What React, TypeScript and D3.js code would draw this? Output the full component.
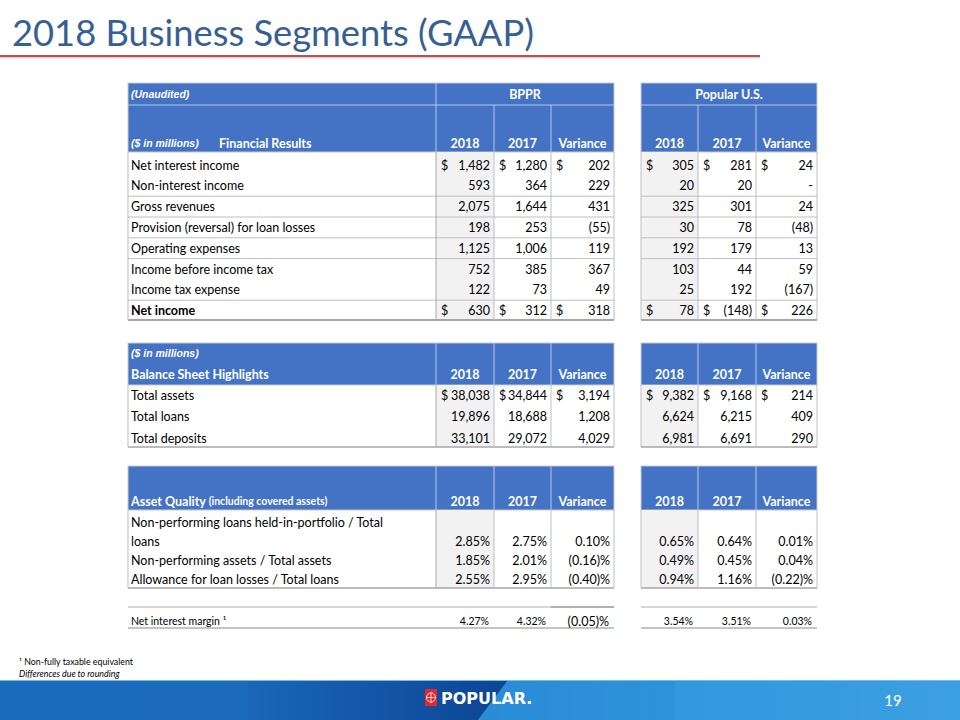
import React from "react";
import * as d3 from "d3";

// ---------- DATA ----------
const finLabels = [
  "Net interest income",
  "Non-interest income",
  "Gross revenues",
  "Provision (reversal) for loan losses",
  "Operating expenses",
  "Income before income tax",
  "Income tax expense",
  "Net income",
];
const finBppr2018 = [1482, 593, 2075, 198, 1125, 752, 122, 630];
const finBppr2017 = [1280, 364, 1644, 253, 1006, 385, 73, 312];
const finBpprVar = [202, 229, 431, -55, 119, 367, 49, 318];
const finUs2018 = [305, 20, 325, 30, 192, 103, 25, 78];
const finUs2017 = [281, 20, 301, 78, 179, 44, 192, -148];
const finUsVar = [24, 0, 24, -48, 13, 59, -167, 226];
const finDollarRows = [0, 7];
const finLinesAfter = [1, 2, 3, 4, 6];

const bsLabels = ["Total assets", "Total loans", "Total deposits"];
const bsBppr2018 = [38038, 19896, 33101];
const bsBppr2017 = [34844, 18688, 29072];
const bsBpprVar = [3194, 1208, 4029];
const bsUs2018 = [9382, 6624, 6981];
const bsUs2017 = [9168, 6215, 6691];
const bsUsVar = [214, 409, 290];
const bsDollarRows = [0];

const aqLabels = [
  ["Non-performing loans held-in-portfolio / Total", "loans"],
  ["Non-performing assets / Total assets"],
  ["Allowance for loan losses / Total loans"],
];
const aqBppr2018 = [2.85, 1.85, 2.55];
const aqBppr2017 = [2.75, 2.01, 2.95];
const aqBpprVar = [0.1, -0.16, -0.4];
const aqUs2018 = [0.65, 0.49, 0.94];
const aqUs2017 = [0.64, 0.45, 1.16];
const aqUsVar = [0.01, 0.04, -0.22];

const nimLabel = "Net interest margin ¹";
const nimBppr = [4.27, 4.32, -0.05];
const nimUs = [3.54, 3.51, 0.03];

const yearHeaders = ["2018", "2017", "Variance"];
const segmentNames = ["BPPR", "Popular U.S."];

// ---------- LAYOUT ----------
const BLUE = "#4472c4";
const GRID = "#bfbfbf";
const FONT = "Lato, 'Open Sans', sans-serif";
const ARIAL = "'Liberation Sans', Arial, sans-serif";
const LEFT = 128;
// column edges: [left,right] for 6 value columns
const colEdges: [number, number][] = [
  [436, 494],
  [494, 551],
  [551, 614],
  [641, 698],
  [698, 756],
  [756, 817],
];

const fmtInt = d3.format(",");
const fmtNum = (v: number) => (v === 0 ? "-" : v < 0 ? `(${fmtInt(-v)})` : fmtInt(v));
const fmtPct2 = d3.format(".2f");
const fmtPct = (v: number) => (v < 0 ? `(${fmtPct2(-v)})%` : `${fmtPct2(v)}%`);

function VLines({ y0, y1, color = GRID }: { y0: number; y1: number; color?: string }) {
  const xs = [LEFT, 436, 494, 551, 614, 641, 698, 756, 817];
  return (
    <g>
      {xs.map((x, i) => (
        <line key={i} x1={x} x2={x} y1={y0} y2={y1} stroke={x === 436 ? "#a6a6a6" : color} strokeWidth={1} />
      ))}
    </g>
  );
}

function GrayCols({ y0, y1 }: { y0: number; y1: number }) {
  return (
    <g>
      {[colEdges[0], colEdges[3]].map((c, i) => (
        <rect key={i} x={c[0]} y={y0} width={c[1] - c[0]} height={y1 - y0} fill="#f2f2f2" />
      ))}
    </g>
  );
}

function HLine({ y, color = GRID, w = 1 }: { y: number; color?: string; w?: number }) {
  return (
    <g>
      <line x1={LEFT} x2={614} y1={y} y2={y} stroke={color} strokeWidth={w} />
      <line x1={641} x2={817} y1={y} y2={y} stroke={color} strokeWidth={w} />
    </g>
  );
}

function BlueHeader({ y0, y1 }: { y0: number; y1: number }) {
  return (
    <g>
      <rect x={LEFT} y={y0} width={614 - LEFT} height={y1 - y0} fill={BLUE} />
      <rect x={641} y={y0} width={817 - 641} height={y1 - y0} fill={BLUE} />
      <rect x={LEFT} y={y0} width={614 - LEFT} height={y1 - y0} fill="none" stroke="#c9c9c9" strokeWidth={1} />
      <rect x={641} y={y0} width={817 - 641} height={y1 - y0} fill="none" stroke="#c9c9c9" strokeWidth={1} />
    </g>
  );
}

function YearLabels({ y }: { y: number }) {
  return (
    <g>
      {colEdges.map((c, i) => (
        <text key={i} x={(c[0] + c[1]) / 2} y={y} textAnchor="middle" dominantBaseline="central"
          fill="#fff" fontFamily={FONT} fontWeight={700} fontSize={12.5}>
          {yearHeaders[i % 3]}
        </text>
      ))}
    </g>
  );
}

function HeaderSeparators({ y0, y1, full }: { y0: number; y1: number; full: boolean }) {
  const xs = full ? [436, 494, 551, 698, 756] : [494, 551, 698, 756];
  return (
    <g>
      {xs.map((x, i) => (
        <line key={i} x1={x} x2={x} y1={y0} y2={y1} stroke="#b4c6e7" strokeWidth={1} />
      ))}
    </g>
  );
}

function ValueRow({ cy, values, dollar, fmt, size = 12.5 }: {
  cy: number; values: number[]; dollar: boolean; fmt: (v: number) => string; size?: number;
}) {
  return (
    <g>
      {values.map((v, i) => {
        const c = colEdges[i];
        return (
          <g key={i}>
            {dollar && (
              <text x={c[0] + 5} y={cy} dominantBaseline="central" fontFamily={FONT} fontSize={size} fill="#000">$</text>
            )}
            <text x={c[1] - 4} y={cy} textAnchor="end" dominantBaseline="central" fontFamily={FONT}
              fontSize={size} fill="#000">
              {fmt(v)}
            </text>
          </g>
        );
      })}
    </g>
  );
}

export default function App() {
  React.useEffect(() => {
    document.body.style.margin = "0";
  }, []);

  // Table 1 row positions
  const finY = d3.scaleLinear().domain([0, 1]).range([165, 185.8]);
  const finTop = 152;
  const finBottom = 320;
  // Table 2
  const bsY = d3.scaleLinear().domain([0, 1]).range([395, 416.5]);
  const bsTop = 385;
  const bsBottom = 447;
  // Table 3
  const aqY = d3.scaleLinear().domain([0, 1]).range([541, 560]);
  const aqTop = 510;
  const aqBottom = 588;

  const finCols = [finBppr2018, finBppr2017, finBpprVar, finUs2018, finUs2017, finUsVar];
  const bsCols = [bsBppr2018, bsBppr2017, bsBpprVar, bsUs2018, bsUs2017, bsUsVar];
  const aqCols = [aqBppr2018, aqBppr2017, aqBpprVar, aqUs2018, aqUs2017, aqUsVar];
  const nimVals = [...nimBppr, ...nimUs];

  return (
    <svg width={960} height={720} style={{ position: "absolute", left: 0, top: 0 }} viewBox="0 0 960 720">
      <defs>
        <linearGradient id="bandL" x1="0" x2="1" y1="0" y2="0">
          <stop offset="0" stopColor="#1c6cbd" />
          <stop offset="1" stopColor="#1a67b8" />
        </linearGradient>
        <linearGradient id="bandC" x1="0" x2="1" y1="0" y2="0">
          <stop offset="0" stopColor="#1a66b8" />
          <stop offset="1" stopColor="#0c4594" />
        </linearGradient>
        <linearGradient id="bandR" x1="0" x2="1" y1="0" y2="0">
          <stop offset="0" stopColor="#2a8bd6" />
          <stop offset="0.5" stopColor="#2f94dc" />
          <stop offset="1" stopColor="#3a9ee0" />
        </linearGradient>
        <linearGradient id="shadow" x1="0" x2="0" y1="0" y2="1">
          <stop offset="0" stopColor="#b0b0b0" stopOpacity={0.8} />
          <stop offset="1" stopColor="#ffffff" stopOpacity={0} />
        </linearGradient>
      </defs>
      <rect x={0} y={0} width={960} height={720} fill="#fff" />

      {/* Title */}
      <text x={12} y={46} fontFamily={FONT} fontSize={36.3} fill="#376092">2018 Business Segments (GAAP)</text>
      <rect x={0} y={57} width={760} height={3} fill="url(#shadow)" />
      <line x1={0} x2={760} y1={56} y2={56} stroke="#c0504d" strokeWidth={2} />

      {/* ---------- Table 1 ---------- */}
      <BlueHeader y0={83} y1={152} />
      <line x1={LEFT} x2={614} y1={105} y2={105} stroke="#b4c6e7" />
      <line x1={641} x2={817} y1={105} y2={105} stroke="#b4c6e7" />
      <HeaderSeparators y0={105} y1={152} full={false} />
      <line x1={436} x2={436} y1={83} y2={152} stroke="#b4c6e7" />
      <text x={131} y={94} dominantBaseline="central" fill="#fff" fontFamily={ARIAL} fontStyle="italic" fontWeight={700} fontSize={10.5}>(Unaudited)</text>
      <text x={525} y={94} textAnchor="middle" dominantBaseline="central" fill="#fff" fontFamily={FONT} fontWeight={700} fontSize={12.5}>{segmentNames[0]}</text>
      <text x={729} y={94} textAnchor="middle" dominantBaseline="central" fill="#fff" fontFamily={FONT} fontWeight={700} fontSize={12.5}>{segmentNames[1]}</text>
      <text x={131} y={143} dominantBaseline="central" fill="#fff" fontFamily={ARIAL} fontStyle="italic" fontWeight={700} fontSize={10.5}>($ in millions)</text>
      <text x={219} y={143} dominantBaseline="central" fill="#fff" fontFamily={FONT} fontWeight={700} fontSize={12.5}>Financial Results</text>
      <YearLabels y={143} />

      <GrayCols y0={finTop} y1={finBottom} />
      {finLinesAfter.map((i) => (
        <HLine key={i} y={(finY(i) + finY(i + 1)) / 2} />
      ))}
      <HLine y={finBottom} color="#a6a6a6" w={2} />
      <VLines y0={finTop} y1={finBottom} />
      {finLabels.map((l, i) => (
        <text key={l} x={131} y={finY(i)} dominantBaseline="central" fontFamily={FONT} fontSize={12.5}
          fontWeight={i === 7 ? 700 : 400} fill="#000">{l}</text>
      ))}
      {finLabels.map((l, i) => (
        <ValueRow key={l} cy={finY(i)} values={finCols.map((c) => c[i])} dollar={finDollarRows.includes(i)} fmt={fmtNum} />
      ))}

      {/* ---------- Table 2 ---------- */}
      <BlueHeader y0={343} y1={385} />
      <HeaderSeparators y0={343} y1={385} full={true} />
      <text x={131} y={353} dominantBaseline="central" fill="#fff" fontFamily={ARIAL} fontStyle="italic" fontWeight={700} fontSize={10.5}>($ in millions)</text>
      <text x={131} y={374} dominantBaseline="central" fill="#fff" fontFamily={FONT} fontWeight={700} fontSize={12.5}>Balance Sheet Highlights</text>
      <YearLabels y={374} />
      <GrayCols y0={bsTop} y1={bsBottom} />
      <HLine y={bsBottom} color="#a6a6a6" w={1.5} />
      <VLines y0={bsTop} y1={bsBottom} />
      {bsLabels.map((l, i) => (
        <text key={l} x={131} y={bsY(i)} dominantBaseline="central" fontFamily={FONT} fontSize={12.5} fill="#000">{l}</text>
      ))}
      {bsLabels.map((l, i) => (
        <ValueRow key={l} cy={bsY(i)} values={bsCols.map((c) => c[i])} dollar={bsDollarRows.includes(i)} fmt={fmtNum} />
      ))}

      {/* ---------- Table 3 ---------- */}
      <BlueHeader y0={466} y1={510} />
      <HeaderSeparators y0={466} y1={510} full={true} />
      <text x={131} y={501} dominantBaseline="central" fill="#fff" fontFamily={FONT} fontWeight={700} fontSize={12.5}>
        Asset Quality <tspan fontSize={10.5}>(including covered assets)</tspan>
      </text>
      <YearLabels y={501} />
      <GrayCols y0={aqTop} y1={aqBottom} />
      <HLine y={aqBottom} color="#a6a6a6" w={1.5} />
      <VLines y0={aqTop} y1={aqBottom} />
      {aqLabels.map((lines, i) =>
        lines.map((t, j) => (
          <text key={`${i}-${j}`} x={131} y={aqY(i) - (lines.length - 1 - j) * 19} dominantBaseline="central"
            fontFamily={FONT} fontSize={12.5} fill="#000">{t}</text>
        ))
      )}
      {aqLabels.map((l, i) => (
        <ValueRow key={i} cy={aqY(i)} values={aqCols.map((c) => c[i])} dollar={false} fmt={fmtPct} />
      ))}

      {/* ---------- Net interest margin ---------- */}
      <HLine y={607} color="#c8c8c8" w={1.5} />
      <line x1={551} x2={614} y1={607} y2={607} stroke="#a6a6a6" strokeWidth={1.5} />
      <HLine y={628} color="#b0b0b0" w={1.5} />
      <text x={131} y={621} dominantBaseline="central" fontFamily={FONT} fontSize={10.5} fill="#000">{nimLabel}</text>
      {nimVals.map((v, i) => (
        <text key={i} x={colEdges[i][1] - 5} y={621} textAnchor="end" dominantBaseline="central" fontFamily={FONT}
          fontSize={i === 2 ? 12.5 : 10.5} fill="#000">{fmtPct(v)}</text>
      ))}

      {/* Footnotes */}
      <text x={19} y={661} dominantBaseline="central" fontFamily={FONT} fontSize={8.8} fill="#000">¹ Non-fully taxable equivalent</text>
      <text x={19} y={673} dominantBaseline="central" fontFamily={FONT} fontSize={8.8} fontStyle="italic" fill="#000">Differences due to rounding</text>

      {/* Footer band */}
      <rect x={0} y={680} width={960} height={40} fill="url(#bandL)" />
      <polygon points="248,680 508,680 478,720 248,720" fill="url(#bandC)" />
      <polygon points="508,680 960,680 960,720 478,720" fill="url(#bandR)" />
      <polygon points="675,680 960,680 960,720 675,720" fill="#3fa2e2" opacity={0.35} />
      <line x1={0} x2={960} y1={680.5} y2={680.5} stroke="#6cc0ec" strokeWidth={1} />
      <rect x={425} y={689} width={12} height={17} fill="#e3262f" />
      <g stroke="#fff" strokeWidth={0.8} fill="none">
        <circle cx={431} cy={697.5} r={4.5} />
        <line x1={431} x2={431} y1={692} y2={703} />
        <line x1={427} x2={435} y1={697.5} y2={697.5} />
      </g>
      <text x={441} y={698} dominantBaseline="central" fontFamily="'DejaVu Sans', sans-serif" fontWeight={700}
        fontSize={16} fill="#fff">POPULAR.</text>
      <text x={893} y={700} textAnchor="middle" dominantBaseline="central" fontFamily={FONT} fontSize={15} fill="#fff">19</text>
    </svg>
  );
}
